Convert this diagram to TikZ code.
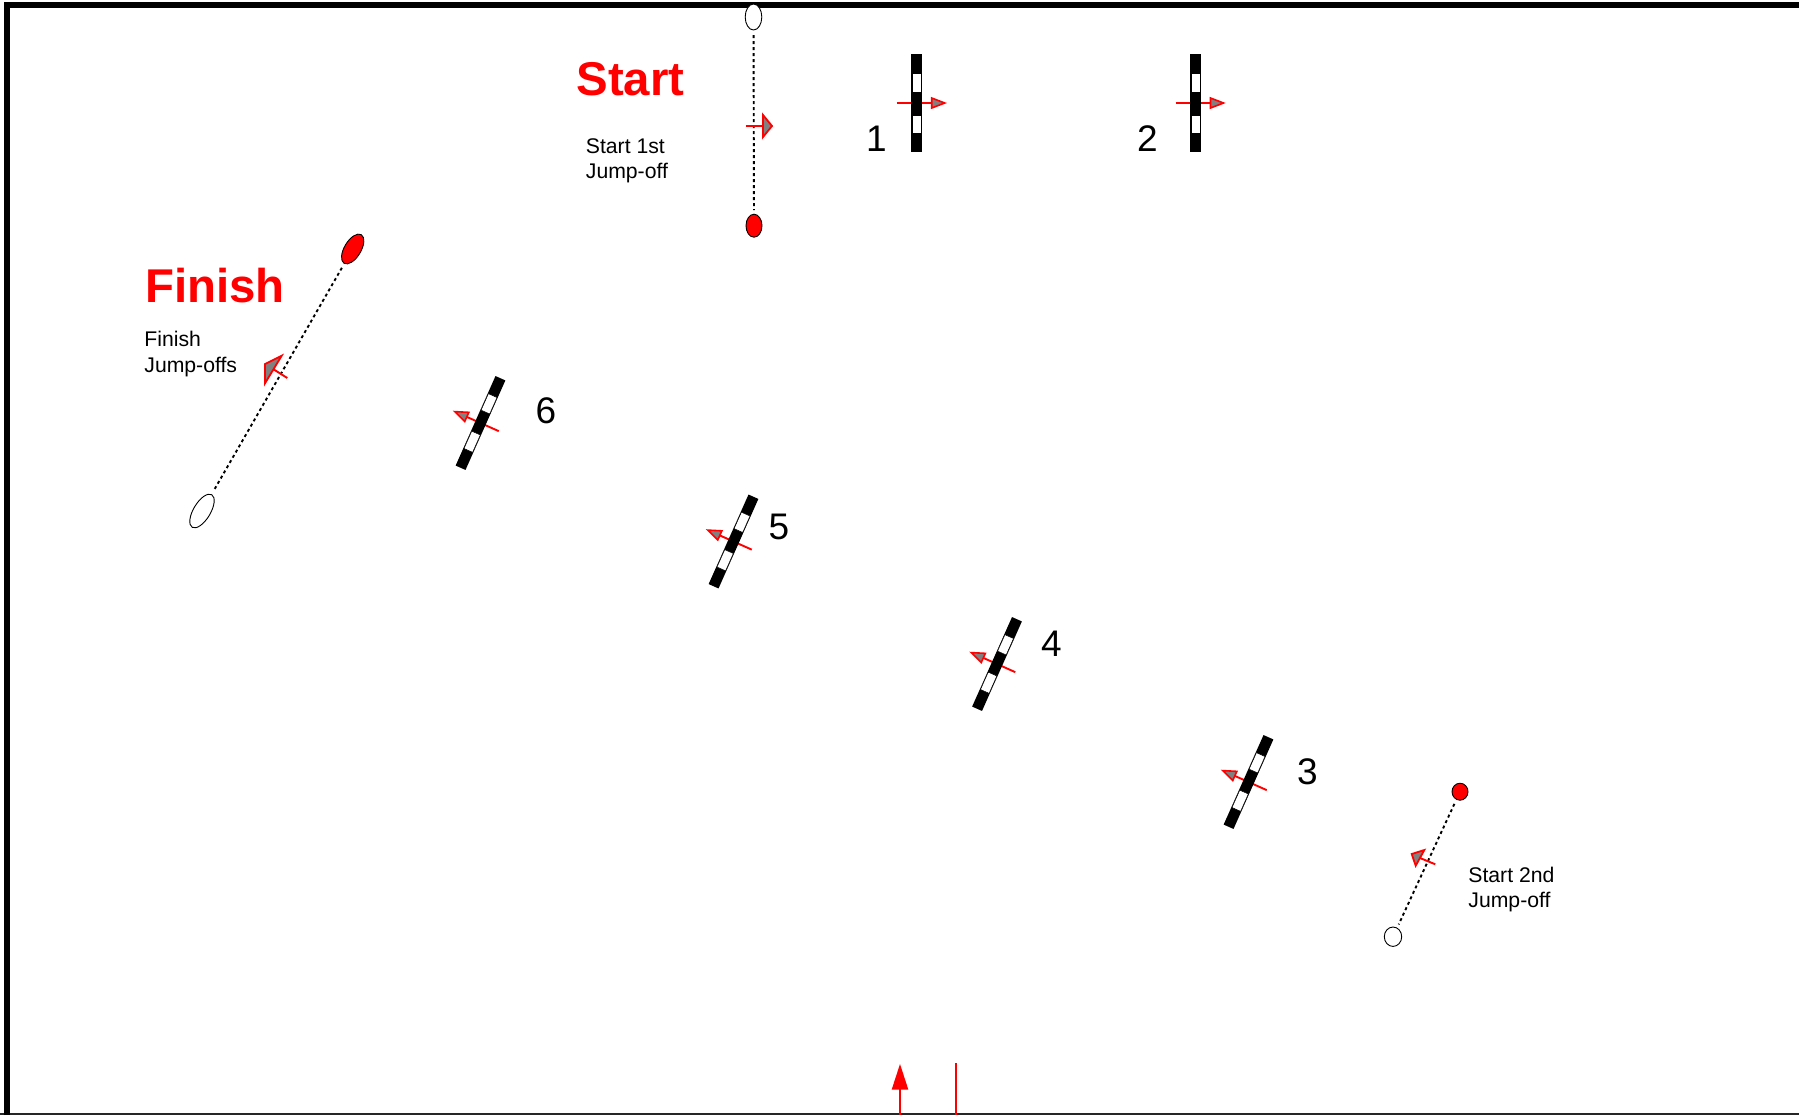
\documentclass[tikz,border=0pt]{standalone}
\usepackage{fontspec}
\setmainfont{Liberation Sans}
\usetikzlibrary{shapes.geometric}
\definecolor{headgray}{HTML}{808080}
\newcommand{\twolines}[2]{\vtop{\baselineskip=12.7pt\hbox{#1}\hbox{#2}}}
\tikzset{
  x=0.5pt,y=-0.5pt,
  framebar/.style={draw=black,line width=3pt,line cap=butt,line join=miter},
  baseline line/.style={draw=black!85,line width=1pt},
  redline/.style={draw=red,line width=0.95pt},
  headtri/.style={draw=red,fill=headgray,line width=0.9pt,line join=miter},
  lineconn/.style={draw=black,line width=0.95pt,dash pattern=on 1.5pt off 1.5pt,shorten >=2pt,shorten <=2.5pt},
  cone/.style={shape=ellipse,draw=black,line width=0.45pt,inner sep=0pt,outer sep=0pt},
  redcone/.style={cone,fill=red},
  whitecone/.style={cone,fill=white},
  bigtext/.style={text=red,font=\fontsize{23.7pt}{26pt}\selectfont\bfseries,inner sep=0pt,anchor=base},
  smalltext/.style={font=\fontsize{10.6pt}{12.7pt}\selectfont,inner sep=0pt,anchor=base west},
  numtext/.style={font=\fontsize{18.5pt}{20pt}\selectfont,inner sep=0pt,anchor=center},
  fence/.pic={
    \draw[redline] (-20,0) -- (18,0);
    \filldraw[headtri,line width=0.8pt] (15,-5) -- (28,0) -- (15,5) -- cycle;
    \fill[black] (-5.4,-49) rectangle (5.4,49);
    \filldraw[fill=white,draw=black,line width=0.25pt] (-4.7,-30) rectangle (4.7,-11);
    \filldraw[fill=white,draw=black,line width=0.25pt] (-4.7,12) rectangle (4.7,30);
  }
}
\begin{document}
\begin{tikzpicture}
\useasboundingbox (0,0) rectangle (1799,1115);
% frame
\coordinate (fA) at (7,1115);
\coordinate (fB) at (7,4.5);
\coordinate (fC) at (1799,4.5);
\coordinate (fD) at (0,1114);
\coordinate (fE) at (1799,1114);
\draw[baseline line] (fD) -- (fE);
\draw[framebar] (fA) -- (fB) -- (fC);

% start gate
\node[whitecone,minimum width=8.3pt,minimum height=13pt] (sw) at (753.5,17) {};
\node[redcone,minimum width=8pt,minimum height=11.5pt] (sr) at (754,225.7) {};
\draw[lineconn] (sw) -- (sr);
\coordinate (sa) at (745.5,126);
\coordinate (sb) at (765,126);
\draw[redline] (sa) -- (sb);
\filldraw[headtri] (763,115) -- (772,126) -- (763,137) -- cycle;

% finish gate
\node[redcone,minimum width=16.7pt,minimum height=8.3pt,rotate=59] (fr) at (352.7,249) {};
\node[whitecone,minimum width=19pt,minimum height=8.5pt,rotate=59] (fw) at (202,511) {};
\draw[lineconn] (fr) -- (fw);
\coordinate (fa) at (287.3,378);
\coordinate (fb) at (273.5,369.3);
\draw[redline] (fa) -- (fb);
\filldraw[headtri] (281.7,355.7) -- (265,364) -- (265,383.3) -- cycle;

% start 2nd jump-off gate
\node[redcone,minimum width=8pt,minimum height=8.5pt] (tr) at (1460,791.7) {};
\node[whitecone,minimum width=8.7pt,minimum height=9.7pt] (tw) at (1393,936.7) {};
\draw[lineconn] (tr) -- (tw);
\coordinate (ta) at (1435.3,864.3);
\coordinate (tb) at (1420,858);
\draw[redline] (ta) -- (tb);
\filldraw[headtri] (1424.3,850) -- (1411.7,854) -- (1415.7,865.7) -- cycle;

% fences
\pic at (916.7,103) {fence};
\pic at (1195.5,103) {fence};
\pic[rotate=156] at (1248.5,782) {fence};
\pic[rotate=156] at (997,664) {fence};
\pic[rotate=156] at (733.5,541.5) {fence};
\pic[rotate=156] at (480.5,423) {fence};

% labels
\node[numtext] (n1) at (876.5,139) {1};
\node[numtext] (n2) at (1147.5,139) {2};
\node[numtext] (n3) at (1307.5,771.5) {3};
\node[numtext] (n4) at (1051.5,643.5) {4};
\node[numtext] (n5) at (779,526.5) {5};
\node[numtext] (n6) at (546,411) {6};
\node[bigtext] (tstart) at (630.5,95.5) {Start};
\node[bigtext] (tfinish) at (215,302.5) {Finish};
\node[smalltext] (l1) at (585.5,153.5) {\twolines{Start 1st}{Jump-off}};
\node[smalltext] (l2) at (144,346.7) {\twolines{Finish}{Jump-offs}};
\node[smalltext] (l3) at (1468,882) {\twolines{Start 2nd}{Jump-off}};

% bottom marks
\coordinate (ba) at (900,1115);
\coordinate (bb) at (900,1087);
\coordinate (bc) at (956,1115);
\coordinate (bd) at (956,1063);
\draw[redline] (ba) -- (bb);
\fill[red] (891.7,1089.5) -- (900,1064) -- (908.3,1089.5) -- cycle;
\draw[redline] (bc) -- (bd);
\end{tikzpicture}
\end{document}
